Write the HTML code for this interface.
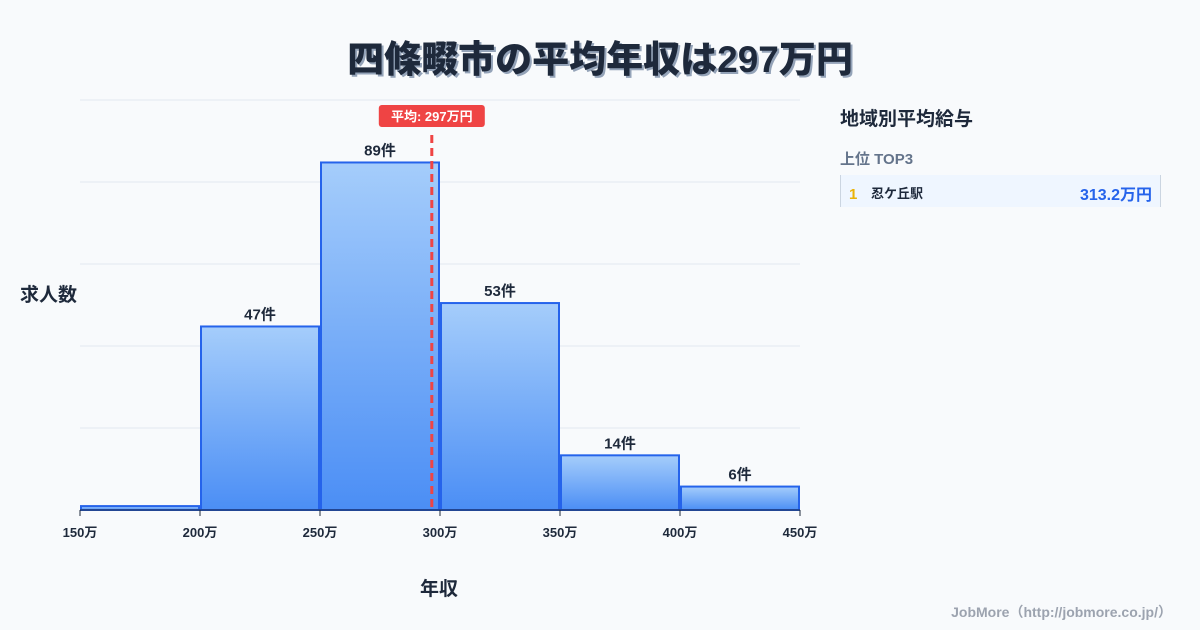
<!DOCTYPE html>
<html><head><meta charset="utf-8"><style>
body{margin:0;width:1200px;height:630px;background:#f8fafc;font-family:"Liberation Sans","Noto Sans CJK JP",sans-serif;overflow:hidden;position:relative}
.t{position:absolute}
</style></head><body>
<div class="t" style="left:0;width:1200px;top:29px;text-align:center;font-size:37px;font-weight:900;color:#1e293b;text-shadow:2px 2px 0 #94a3b8">四條畷市の平均年収は297万円</div>
<div class="t" style="left:20px;top:280px;font-size:19px;font-weight:700;color:#1e293b">求人数</div>
<div class="t" style="left:420px;top:574px;font-size:19px;font-weight:700;color:#1e293b">年収</div>
<div class="t" style="left:840px;top:104px;font-size:19px;font-weight:700;color:#1e293b">地域別平均給与</div>
<div class="t" style="left:840px;top:148px;font-size:15px;font-weight:700;color:#64748b">上位 TOP3</div>
<div class="t" style="left:840px;top:175px;width:321px;height:32px;background:#eff6ff;border-left:1px solid #cbd5e1;border-right:1px solid #cbd5e1;box-sizing:border-box">
<span class="t" style="left:8px;top:0;line-height:40px;font-size:15px;font-weight:700;color:#eab308">1</span>
<span class="t" style="left:30px;top:0;line-height:38px;font-size:13px;font-weight:700;color:#1e293b">忍ケ丘駅</span>
<span class="t" style="right:8px;top:0;line-height:42px;font-size:16px;font-weight:700;color:#2563eb">313.2万円</span>
</div>
<div class="t" style="right:28px;top:602px;font-size:14px;font-weight:700;color:#9ca3af">JobMore（http://jobmore.co.jp/）</div>
<svg class="t" style="left:0;top:0" width="1200" height="630">
<defs><linearGradient id="g" x1="0" y1="0" x2="0" y2="1"><stop offset="0" stop-color="#a5cdfb"/><stop offset="1" stop-color="#4b8ef5"/></linearGradient></defs>
<g id="grid"></g><g id="bars"></g><g id="axis"></g><g id="mean"></g>
</svg>
<script>
const binStarts=[150,200,250,300,350,400];
const counts=[1,47,89,53,14,6];
const tickLabels=[150,200,250,300,350,400,450];
const meanValue=297;
const NS='http://www.w3.org/2000/svg';
const X0=80,X1=800,Y0=510,YMAX=105,PH=410;
const xs=v=>X0+(v-150)/300*(X1-X0);
const ys=v=>Y0-v/YMAX*PH;
function mk(t,a,p){const e=document.createElementNS(NS,t);for(const k in a)e.setAttribute(k,a[k]);p.appendChild(e);return e;}
const grid=document.getElementById('grid');
for(let i=0;i<=5;i++){const y=Y0-i*PH/5;const l=mk('line',{x1:X0,x2:X1,y1:y,y2:y,stroke:'#e2e8f0','stroke-width':1},grid);

}
const bars=document.getElementById('bars');
binStarts.forEach((b,i)=>{const x=xs(b)+1,w=xs(b+50)-xs(b)-2,y=ys(counts[i]);
const r=mk('rect',{x:x,y:y,width:w,height:Y0-y,fill:'url(#g)',stroke:'#2563eb','stroke-width':2},bars);


if(counts[i]>=5){const t=mk('text',{x:x+w/2,y:y-7,'text-anchor':'middle','font-size':15,'font-weight':700,fill:'#1e293b'},bars);t.textContent=counts[i]+'件';

}
});
const ax=document.getElementById('axis');
mk('line',{x1:X0,x2:X1,y1:Y0,y2:Y0,stroke:'#1e293b','stroke-width':1},ax);
tickLabels.forEach(v=>{const x=xs(v);mk('line',{x1:x,x2:x,y1:Y0,y2:Y0+6,stroke:'#1e293b'},ax);
const t=mk('text',{x:x,y:537,'text-anchor':'middle','font-size':13,'font-weight':700,fill:'#1e293b'},ax);t.textContent=v+'万';

});
const mg=document.getElementById('mean');const mx=xs(meanValue)-1;
const ml=mk('line',{x1:mx,x2:mx,y1:135,y2:Y0,stroke:'#ef4444','stroke-width':3,'stroke-dasharray':'8,5'},mg);


mk('rect',{x:mx-53,y:105,width:106,height:22,rx:3,fill:'#ef4444'},mg);
const mt=mk('text',{x:mx,y:121,'text-anchor':'middle','font-size':13,'font-weight':700,fill:'#fff'},mg);mt.textContent='平均: '+meanValue+'万円';


</script>
</body></html>
